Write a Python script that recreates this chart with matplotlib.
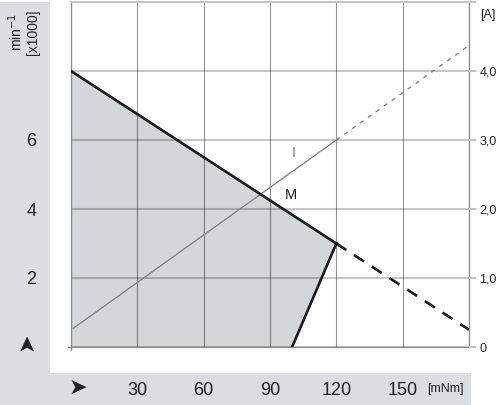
import numpy as np
import matplotlib
matplotlib.use("Agg")
import matplotlib.pyplot as plt
from matplotlib.patches import Rectangle

plt.rcParams['font.family'] = ['Liberation Sans', 'DejaVu Sans']

# ---------- data ----------
torque_ticks = [0, 30, 60, 90, 120, 150, 180]          # mNm
torque_labels = ['', '30', '60', '90', '120', '150', '']
speed_ticks = [0, 2, 4, 6, 8, 10]                       # min-1 x1000
speed_labels = ['', '2', '4', '6', '', '']
current_ticks = [0, 1, 2, 3, 4, 5]                      # A
current_labels = ['0', '1,0', '2,0', '3,0', '4,0', '']

# speed curve: solid part (continuous duty) and dashed extension
speed_torque = [0, 120]
speed_vals = [8.0, 3.0]
speed_ext_torque = [120, 180]
speed_ext_vals = [3.0, 0.5]

# limit of the operating area
limit_torque = [100, 120]
limit_speed = [0, 3.0]

# operating area (shaded)
area_torque = [0, 0, 120, 100]
area_speed = [0, 8.0, 3.0, 0]

# current curve
cur_torque = [1, 120]
cur_vals = [0.27, 3.0]
cur_ext_torque = [120, 180]
cur_ext_vals = [3.0, 4.37]

W, H = 500, 405
fig = plt.figure(figsize=(W / 100, H / 100), dpi=100)

# gray side panels (behind everything)
panel = '#dcdddf'
fig.patches.append(Rectangle((0, 0), 50 / W, (H - 2) / H, transform=fig.transFigure,
                             facecolor=panel, edgecolor='none', zorder=-5))
fig.patches.append(Rectangle((0, 0), 471 / W, (H - 373) / H, transform=fig.transFigure,
                             facecolor=panel, edgecolor='none', zorder=-5))

ax = fig.add_axes([71 / W, (H - 347) / H, 398 / W, 345 / H])
ax2 = ax.twinx()

ax.set_xlim(0, 180)
ax.set_ylim(0, 10)
ax2.set_ylim(0, 5)

# shaded operating area
ax.fill(area_torque, area_speed, color='#d4d7d7', lw=0, zorder=1)

# grid
ax.set_xticks(torque_ticks)
ax.set_yticks(speed_ticks)
ax.grid(axis='y', color='k', alpha=0.22, lw=1.5)
ax.grid(axis='x', color='k', alpha=0.42, lw=0.8)

# current (drawn in main axes, with current scale)
ax.plot(cur_torque, cur_vals, color='#858585', lw=1.0, transform=ax2.transData, zorder=2)
ax.plot(cur_ext_torque, cur_ext_vals, color='#858585', lw=1.0, dashes=(3, 4),
        transform=ax2.transData, zorder=2)

# speed
ax.plot(speed_torque, speed_vals, color='#1a1a1a', lw=1.9, zorder=3)
ax.plot(speed_ext_torque, speed_ext_vals, color='#1a1a1a', lw=1.9, dashes=(4.5, 3.5), zorder=3)
ax.plot(limit_torque, limit_speed, color='#1a1a1a', lw=1.9, zorder=3)

ax.text(100.5, 5.62, 'I', color='#808080', fontsize=10.5, ha='center', va='center')
ax.text(99.5, 4.42, 'M', color='#1a1a1a', fontsize=10.5, ha='center', va='center')

# spines
ax.spines['top'].set_color('#c4c4c4')
ax.spines['top'].set_linewidth(1.5)
for s in ['left', 'bottom', 'right']:
    ax.spines[s].set_color('#8a8a8a')
    ax.spines[s].set_linewidth(0.9)
for s in ax2.spines.values():
    s.set_visible(False)

# tick labels
ax.set_xticklabels(torque_labels)
ax.set_yticklabels(speed_labels)
ax.tick_params(axis='both', length=0, labelsize=13, colors='#222222')
ax.tick_params(axis='x', pad=25)
ax.tick_params(axis='y', pad=25)

ax2.set_yticks(current_ticks)
ax2.set_yticklabels(current_labels)
ax2.tick_params(axis='y', length=5, width=1.5, color='#c4c4c4', pad=2.5,
                labelsize=9, labelcolor='#222222')

# small spine overhangs at the origin
ax.plot([-0.008, 0], [0, 0], transform=ax.transAxes, color='#8a8a8a', lw=0.9, clip_on=False)
ax.plot([0, 0], [-0.01, 0], transform=ax.transAxes, color='#8a8a8a', lw=0.9, clip_on=False)

# unit labels and arrows
fig.text(23 / W, 1 - 32 / H, 'min$^{-1}$\n[x1000]', rotation=90, fontsize=10,
         ha='center', va='center', color='#222222', linespacing=1.05)
fig.text(488 / W, 1 - 15 / H, '[A]', fontsize=9, ha='center', va='center', color='#222222')
fig.text(445 / W, 1 - 389 / H, '[mNm]', fontsize=9, ha='center', va='center', color='#222222')
fig.text(27 / W, 1 - 342 / H, '➤', rotation=90, fontsize=16, ha='center', va='center',
         color='#222222')
fig.text(78 / W, 1 - 388 / H, '➤', fontsize=16, ha='center', va='center', color='#222222')

fig.savefig('out.png', dpi=100)
